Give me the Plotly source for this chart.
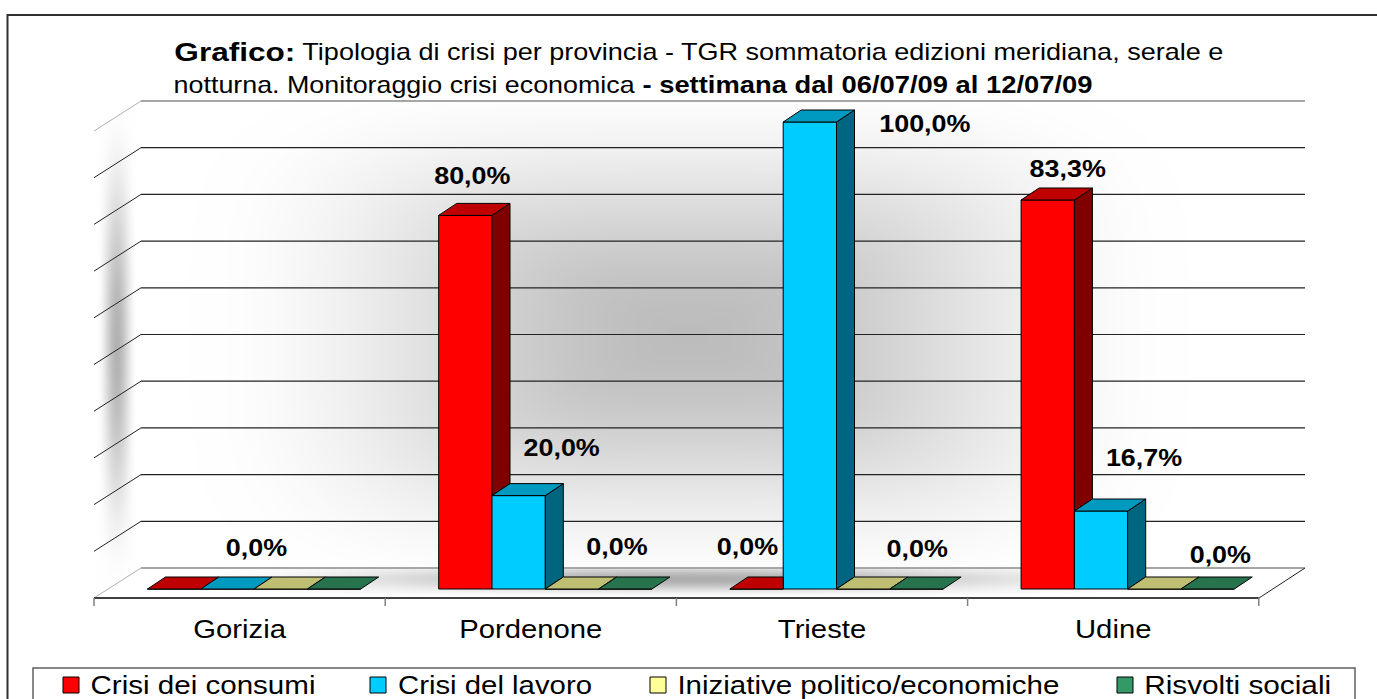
import base64, json, struct, zlib
import numpy as np
import plotly.graph_objects as go

# ---------- data ----------
categories = ["Gorizia", "Pordenone", "Trieste", "Udine"]
crisi_consumi = [0.0, 80.0, 0.0, 83.3]
crisi_lavoro = [0.0, 20.0, 100.0, 16.7]
iniziative = [0.0, 0.0, 0.0, 0.0]
risvolti = [0.0, 0.0, 0.0, 0.0]
series_names = ["Crisi dei consumi", "Crisi del lavoro", "Iniziative politico/economiche", "Risvolti sociali"]
series_values = [crisi_consumi, crisi_lavoro, iniziative, risvolti]
grid_values = [0, 10, 20, 30, 40, 50, 60, 70, 80, 90, 100]

# styles
front_colors = ["#FF0000", "#00CCFF", "#FFFF99", "#339966"]
top_colors = ["#BF0000", "#0099BF", "#BFBF73", "#26734D"]
side_colors = ["#800000", "#006680", "#80804D", "#1A4D33"]

# which labels are shown: (category index, series index, dx px, dy px from bar top-centre)
label_cat = [0, 1, 1, 1, 2, 2, 2, 3, 3, 3]
label_ser = [1, 0, 1, 2, 0, 1, 2, 0, 1, 2]
label_dx = [29, 7, 43, 45, -9, 115, 54, 20, 43, 66]
label_dy = [-39, -37, -45, -40, -40, 4, -38, -29, -51, -32]

# ---------- geometry (page is 1377x699) ----------
W, H = 1377, 699
X0, CW = 94.0, 291.2        # px of first category edge, px per category
Y0, PV = 589.0, 4.67        # px of value 0, px per value unit
BOT = 610.0                 # px of bottom of the plot area
BW = 53.3 / CW              # bar width in category units
OFF = 53.5 / CW             # first bar offset in a category
DX = 18.0 / CW              # bar depth in x
DY = 12.0 / PV              # bar depth in y
WALL_X0, WALL_X1, WALL_DY = 141.0, 1305.0, 21.0 / PV   # back wall
FRONT_X1 = 1259.0


def px_x(px):
    return (px - X0) / CW


def px_y(px):
    return (Y0 - px) / PV


def smooth(t):
    t = np.clip(t, 0, 1)
    return t * t * (3 - 2 * t)


# ---------- background shading ----------
def make_png():
    yy, xx = np.mgrid[0:H, 0:W].astype(float) + 0.5
    g = np.ones((H, W))
    # back wall
    d = ((np.abs(xx - 690) / 500) ** 4 + (np.abs(yy - 335) / 265) ** 4) ** (1 / 4)
    wall = 1 - 0.26 * smooth(1 - d)
    m = (xx >= WALL_X0) & (xx <= WALL_X1) & (yy >= 102) & (yy <= 568)
    g[m] = wall[m]
    # left side wall
    u = (xx - 94) / 47
    sy = yy - 30 * (1 - u)
    m = (u >= 0) & (u < 1) & (sy >= 102) & (sy <= 568)
    band = smooth(1 - np.abs(xx - 117) / 20) * smooth(1 - np.abs(yy - 345) / 250)
    g[m] = (1 - 0.3 * band)[m]
    # floor
    v = (yy - 568) / 30
    lx = 141 - 47 * v
    rx = 1305 - 46 * v
    m = (v >= 0) & (v <= 1) & (xx >= lx) & (xx <= rx)
    fl = smooth(1 - np.abs(xx - 690) / 520) * smooth(1 - np.abs(yy - 579) / 19)
    g[m] = (1 - 0.32 * fl)[m]
    rgb = (np.clip(g, 0, 1) * 255).astype(np.uint8)
    raw = b"".join(b"\x00" + rgb[r].tobytes() for r in range(H))

    def chunk(tag, data):
        c = struct.pack(">I", len(data)) + tag + data
        return c + struct.pack(">I", zlib.crc32(tag + data) & 0xFFFFFFFF)

    png = b"\x89PNG\r\n\x1a\n" + chunk(b"IHDR", struct.pack(">IIBBBBB", W, H, 8, 0, 0, 0, 0)) \
        + chunk(b"IDAT", zlib.compress(raw, 9)) + chunk(b"IEND", b"")
    return "data:image/png;base64," + base64.b64encode(png).decode()


fig = go.Figure()

# ---------- front faces ----------
for s, (name, vals) in enumerate(zip(series_names, series_values)):
    fig.add_trace(go.Bar(
        x=[c + OFF + BW * (s + 0.5) for c in range(len(categories))],
        y=vals, width=BW, name=name, showlegend=False,
        marker=dict(color=front_colors[s], line=dict(color="#000000", width=1)),
        hovertemplate=name + ": %{y:.1f}%<extra></extra>",
    ))

# ---------- side and top faces, computed from the values ----------
for s, vals in enumerate(series_values):
    sx, sy, tx, ty = [], [], [], []
    nxt = series_values[s + 1] if s + 1 < len(series_values) else [0.0] * len(vals)
    for c, v in enumerate(vals):
        x0 = c + OFF + BW * s
        x1 = x0 + BW
        b = nxt[c]
        if v > 0 and b < v:
            sx += [x1, x1 + DX, x1 + DX, x1, x1, None]
            sy += [v, v + DY, b + DY, b, v, None]
        if b > v:
            tx += [x0, x0 + DX, x1, x1, x0, None]
            ty += [v, v + DY, v + DY, v, v, None]
        else:
            tx += [x0, x0 + DX, x1 + DX, x1, x0, None]
            ty += [v, v + DY, v + DY, v, v, None]
    if sx:
        fig.add_trace(go.Scatter(x=sx, y=sy, mode="lines", fill="toself", fillcolor=side_colors[s],
                                 line=dict(color="#000000", width=1), hoverinfo="skip", showlegend=False))
    fig.add_trace(go.Scatter(x=tx, y=ty, mode="lines", fill="toself", fillcolor=top_colors[s],
                             line=dict(color="#000000", width=1), hoverinfo="skip", showlegend=False))

# ---------- value labels ----------
lab_x, lab_y, lab_t = [], [], []
for c, s, dx, dy in zip(label_cat, label_ser, label_dx, label_dy):
    v = series_values[s][c]
    lab_x.append(c + OFF + BW * (s + 0.5) + dx / CW)
    lab_y.append(v - dy / PV)
    lab_t.append(f"{v:.1f}%".replace(".", ","))
fig.add_trace(go.Scatter(x=lab_x, y=lab_y, text=lab_t, mode="text", textposition="middle center",
                         textfont=dict(family="Liberation Sans", size=23, color="#000000", weight="bold"),
                         hoverinfo="skip", showlegend=False))

# ---------- front axis line and ticks ----------
edges = list(range(len(categories) + 1))
ax_y = px_y(598)
fig.add_trace(go.Scatter(x=[edges[0], edges[-1]], y=[ax_y, ax_y], mode="lines",
                         line=dict(color="#404040", width=2), hoverinfo="skip", showlegend=False))
tick_x, tick_y = [], []
for e in edges:
    tick_x += [e, e, None]
    tick_y += [ax_y, px_y(606), None]
fig.add_trace(go.Scatter(x=tick_x, y=tick_y, mode="lines", line=dict(color="#808080", width=1.5),
                         hoverinfo="skip", showlegend=False))

# ---------- walls, grid, frame ----------
shapes = []
for g in grid_values:
    edge = g in (0, 100)
    col = "#A6A6A6" if edge else "#222222"
    wid = 2 if edge else 1.2
    shapes.append(dict(type="line", layer="below", xref="paper", yref="y",
                       x0=WALL_X0 / W, x1=WALL_X1 / W, y0=g + WALL_DY, y1=g + WALL_DY,
                       line=dict(color=col, width=wid)))
    shapes.append(dict(type="line", layer="below", xref="paper", yref="y",
                       x0=WALL_X0 / W, x1=X0 / W, y0=g + WALL_DY, y1=g + WALL_DY - 30 / PV,
                       line=dict(color="#B0B0B0" if edge else "#222222", width=1)))
shapes.append(dict(type="line", layer="below", xref="paper", yref="y", x0=WALL_X1 / W, x1=FRONT_X1 / W,
                   y0=WALL_DY, y1=WALL_DY - 30 / PV, line=dict(color="#222222", width=1)))
# chart frame
shapes.append(dict(type="rect", xref="paper", yref="paper", x0=7.5 / W, x1=1400 / W,
                   y0=-10 / H, y1=1 - 15 / H, line=dict(color="#303030", width=2)))
# legend box and swatches
shapes.append(dict(type="rect", xref="paper", yref="paper", x0=33 / W, x1=1355 / W,
                   y0=-10 / H, y1=1 - 668 / H, line=dict(color="#606060", width=1.5)))
legend_swatch_x = [63, 370, 650, 1117]
legend_text_spans = [(90, 315), (398, 592), (677, 1059), (1144, 1331)]
annotations = []
target_widths = {}
for s, name in enumerate(series_names):
    shapes.append(dict(type="rect", xref="paper", yref="paper",
                       x0=legend_swatch_x[s] / W, x1=(legend_swatch_x[s] + 16) / W,
                       y0=1 - 693 / H, y1=1 - 677 / H,
                       fillcolor=front_colors[s], line=dict(color="#000000", width=1)))
    a, b = legend_text_spans[s]
    target_widths[name] = b - a
    annotations.append(dict(text=name, xref="paper", yref="paper", x=(a + b) / 2 / W, y=1 - 685 / H,
                            xanchor="center", yanchor="middle", showarrow=False,
                            font=dict(family="Liberation Sans", size=26, color="#000000")))

# title, one annotation per run of text: text, left px, right px, centre y px, bold, size
title_runs = [
    ("Grafico:", 174, 295, 52, True, 26),
    ("Tipologia di crisi per provincia - TGR sommatoria edizioni meridiana, serale e", 303, 1224, 52, False, 24),
    ("notturna. Monitoraggio crisi economica", 174, 635, 85, False, 24),
    ("- settimana dal 06/07/09 al 12/07/09", 642, 1092, 85, True, 24),
]
for text, a, b, y, bold, size in title_runs:
    target_widths[text] = b - a
    annotations.append(dict(text=text, xref="paper", yref="paper", x=(a + b) / 2 / W, y=1 - y / H,
                            xanchor="center", yanchor="middle", showarrow=False,
                            font=dict(family="Liberation Sans", size=size, color="#000000",
                                      weight="bold" if bold else "normal")))

fig.update_layout(
    width=W, height=H, margin=dict(l=0, r=0, t=0, b=0), autosize=False,
    paper_bgcolor="#FFFFFF", plot_bgcolor="rgba(0,0,0,0)",
    barmode="overlay", showlegend=False,
    font=dict(family="Liberation Sans", color="#000000"),
    xaxis=dict(domain=[0, 1], range=[px_x(0), px_x(W)], showgrid=False, zeroline=False, showline=False,
               tickmode="array", tickvals=[c + 0.5 for c in range(len(categories))], ticktext=categories,
               ticks="", tickfont=dict(size=25, color="#000000"), ticklabelstandoff=2),
    yaxis=dict(domain=[(H - BOT) / H, 1], range=[px_y(BOT), px_y(0)], showgrid=False, zeroline=False,
               showline=False, showticklabels=False, ticks=""),
    shapes=shapes, annotations=annotations,
    images=[dict(source=make_png(), xref="paper", yref="paper", x=0, y=1, sizex=1, sizey=1,
                 sizing="stretch", xanchor="left", yanchor="top", layer="below")],
)

post = """
document.body.style.margin='0';
var targets = %s;
document.querySelectorAll('svg text').forEach(function(t){
  var n=t.getComputedTextLength();
  var w=targets[t.textContent] || n*1.17;
  if(n>0){t.setAttribute('textLength',w);t.setAttribute('lengthAdjust','spacingAndGlyphs');}
});
""" % json.dumps(target_widths)
fig.write_html("out.html", post_script=post, config={"displayModeBar": False})
